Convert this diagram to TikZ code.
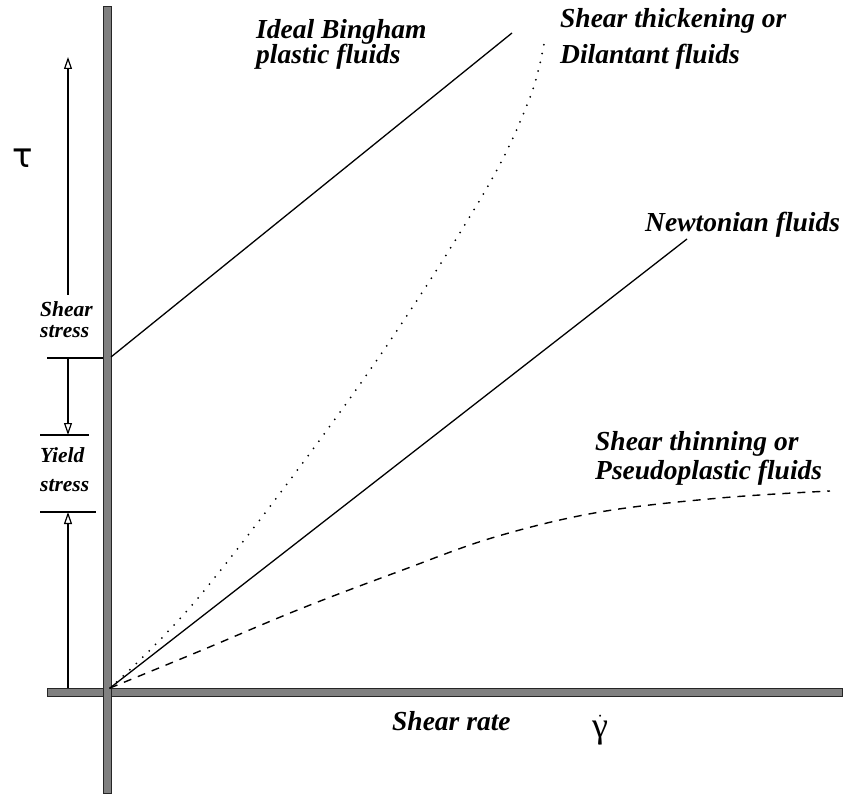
\documentclass[tikz,border=0pt]{standalone}
\usepackage{fontspec}
\setmainfont{Liberation Serif}
\newfontfamily\greekfont{DejaVu Sans}
\usetikzlibrary{arrows.meta}
\definecolor{axisgray}{RGB}{128,128,128}
\begin{document}
\setlength{\lineskiplimit}{-100pt}
\begin{tikzpicture}[x=1pt,y=-1pt,
  axisbar/.style={fill=axisgray,draw=black!85,line width=0.9pt},
  plain/.style={line width=1.3pt,black},
  dotcurve/.style={line width=2pt,line cap=round,dash pattern=on 0pt off 9pt},
  dashcurve/.style={line width=1.4pt,dash pattern=on 8pt off 7pt},
  tick/.style={line width=1.2pt},
  openarrow/.style={line width=1.2pt,-{Triangle[open,length=12pt,width=8pt]}},
  biglabel/.style={inner sep=0pt,align=left,font=\bfseries\itshape\fontsize{27.5}{#1}\selectfont},
  smalllabel/.style={inner sep=0pt,align=left,font=\bfseries\itshape\fontsize{21.5}{#1}\selectfont}]
\useasboundingbox (0,0) rectangle (843,794);

% axes
\draw[axisbar] (47,688) rectangle (842,696);
\draw[axisbar] (103,6) rectangle (111,793);

% coordinates
\coordinate (O) at (110,688);
\coordinate (bingS) at (111,357);
\coordinate (bingE) at (512,33);
\coordinate (newtE) at (687,239);

% curves
\draw[plain] (bingS) -- (bingE);
\draw[plain] (O) -- (newtE);
\draw[dotcurve] plot[smooth,tension=0.6] coordinates {(110,688) (203,592) (363,380) (481,198) (529,100) (545,38)};
\draw[dashcurve] plot[smooth,tension=0.6] coordinates {(110,688) (200,651) (300,609) (400,571) (495,537) (600,512) (720,498) (830,491)};

% ticks
\coordinate (t1a) at (47,358);  \coordinate (t1b) at (103,358);
\coordinate (t2a) at (40,435);  \coordinate (t2b) at (89,435);
\coordinate (t3a) at (40,512);  \coordinate (t3b) at (96,512);
\draw[tick] (t1a) -- (t1b);
\draw[tick] (t2a) -- (t2b);
\draw[tick] (t3a) -- (t3b);

% arrows
\coordinate (a1s) at (68,295); \coordinate (a1e) at (68,57);
\coordinate (a2s) at (68,358); \coordinate (a2e) at (68,435);
\coordinate (a3s) at (68,688); \coordinate (a3e) at (68,512);
\draw[openarrow] (a1s) -- (a1e);
\draw[openarrow] (a2s) -- (a2e);
\draw[openarrow] (a3s) -- (a3e);

% labels
\node[biglabel=25, anchor=north west] (bing) at (256,19) {Ideal Bingham\\plastic fluids};
\node[biglabel=36, anchor=north west] (dil) at (560,8) {Shear thickening or\\Dilantant fluids};
\node[biglabel=28, anchor=base west] (newt) at (645,232) {Newtonian fluids};
\node[biglabel=29, anchor=north west] (pseudo) at (595,431) {Shear thinning or\\Pseudoplastic fluids};
\node[biglabel=28, anchor=base west] (rate) at (392,730) {Shear rate};
\node[smalllabel=21, anchor=north west] (sstress) at (40,301) {Shear\\stress};
\node[smalllabel=29, anchor=north west] (ystress) at (40,447) {Yield\\stress};
\node[inner sep=0pt, font=\greekfont\fontsize{34}{40}\selectfont, anchor=base west] (tau) at (12,168) {τ};
\node[inner sep=0pt, font=\fontsize{36}{40}\selectfont, anchor=base west] (gam) at (592,737) {$\dot{\hbox{γ}}$};
\end{tikzpicture}
\end{document}
